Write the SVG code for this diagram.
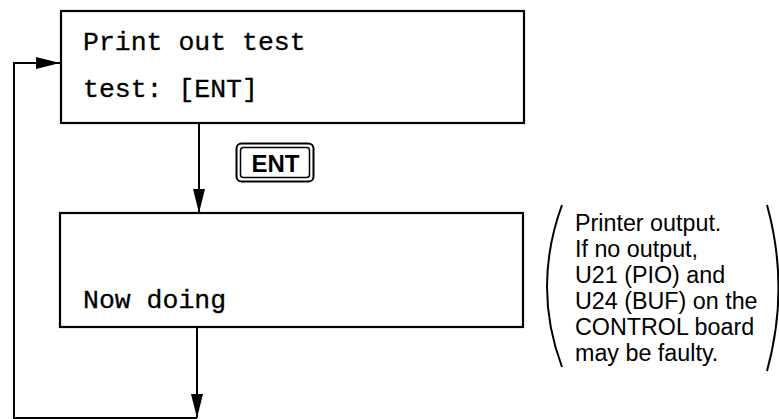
<svg xmlns="http://www.w3.org/2000/svg" width="779" height="419" viewBox="0 0 779 419">
<defs>
<style>
.box{fill:#fff;stroke:#000;stroke-width:2.2}
.mono{font-family:"Liberation Mono","Courier New",monospace;font-size:26.5px;fill:#000;stroke:#000;stroke-width:0.3}
.note{font-family:"Liberation Sans",Arial,Helvetica,sans-serif;font-size:23.3px;fill:#000}
.line{fill:none;stroke:#000;stroke-width:2}
.key{font-family:"Liberation Sans",Arial,sans-serif;font-size:24px;font-weight:bold;fill:#000}
</style>
<marker id="arr" viewBox="0 0 24 12" refX="24" refY="6" markerWidth="24" markerHeight="12" markerUnits="userSpaceOnUse" orient="auto">
<path d="M0,0 L24,6 L0,12 Z" fill="#000"/>
</marker>
</defs>
<rect width="779" height="419" fill="#fff"/>
<g id="connectors">
<line class="line" x1="199" y1="123" x2="199" y2="213" marker-end="url(#arr)"/>
<line class="line" x1="197" y1="327" x2="197" y2="418" marker-end="url(#arr)"/>
<polyline class="line" points="197,418 14,418 14,63 60,63" marker-end="url(#arr)"/>
</g>
<g id="node-print-out-test">
<rect class="box" x="61" y="11" width="463" height="112"/>
<text class="mono" x="83" y="50">Print out test</text>
<text class="mono" x="83" y="97">test: [ENT]</text>
</g>
<g id="key-ent">
<rect x="236.5" y="143.5" width="77" height="38" rx="5" fill="#fff" stroke="#000" stroke-width="2"/>
<rect x="240.5" y="147.5" width="69" height="30" rx="3" fill="none" stroke="#000" stroke-width="1.5"/>
<text class="key" x="275.5" y="172" text-anchor="middle">ENT</text>
</g>
<g id="node-now-doing">
<rect class="box" x="60" y="213" width="463" height="114"/>
<text class="mono" x="83" y="308">Now doing</text>
</g>
<g id="note">
<path class="line" d="M562,205 Q532,287 562,367" stroke-width="1.8"/>
<path class="line" d="M767,205 Q790,288 767,371" stroke-width="1.8"/>
<text class="note" x="575" y="231">Printer output.</text>
<text class="note" x="575" y="257">If no output,</text>
<text class="note" x="575" y="283">U21 (PIO) and</text>
<text class="note" x="575" y="309">U24 (BUF) on the</text>
<text class="note" x="575" y="335">CONTROL board</text>
<text class="note" x="575" y="361">may be faulty.</text>
</g>
</svg>
